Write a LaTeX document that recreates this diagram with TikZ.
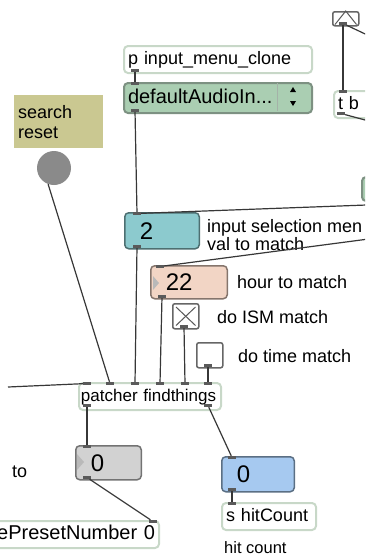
\documentclass[tikz,border=0pt]{standalone}
\usepackage{fontspec}
\setmainfont{Liberation Sans}

\definecolor{objedge}{RGB}{200,216,200}
\definecolor{cordgray}{RGB}{55,55,55}
\definecolor{inletgray}{RGB}{90,90,90}
\definecolor{menufill}{RGB}{170,206,178}
\definecolor{menuedge}{RGB}{125,145,130}
\definecolor{commentfill}{RGB}{202,200,145}
\definecolor{bangfill}{RGB}{138,138,138}
\definecolor{tealfill}{RGB}{140,202,206}
\definecolor{peachfill}{RGB}{242,213,197}
\definecolor{grayfill}{RGB}{210,210,210}
\definecolor{bluefill}{RGB}{166,201,240}

\newcommand\objfont{\fontsize{18}{20}\selectfont}
\newcommand\numfont{\fontsize{24}{26}\selectfont}

\tikzset{
  obj/.style={draw=objedge,line width=2pt,fill=white,rounded corners=4pt,anchor=north west,
    inner xsep=4pt,inner ysep=0pt,minimum height=27pt,align=left,font=\objfont,
    text height=13.5pt,text depth=3.5pt},
  menubox/.style={obj,draw=menuedge,fill=menufill,minimum height=30pt},
  numbox/.style={draw=#1!55!black,fill=#1,line width=1.5pt,rounded corners=4pt,anchor=north west,
    inner xsep=15pt,inner ysep=0pt,align=left,font=\numfont,text height=17pt,text depth=0pt},
  toggle/.style={draw=gray!80!black,line width=1.5pt,fill=white,rounded corners=2pt,anchor=north west,
    minimum width=26pt,minimum height=25pt,inner sep=0pt},
  port/.style={fill=inletgray,minimum width=8pt,minimum height=3pt,inner sep=0pt},
  cord/.style={draw=cordgray,line width=1.2pt},
  note/.style={anchor=base west,inner sep=0pt,font=\objfont},
}

\begin{document}
\begin{tikzpicture}[x=1pt,y=-1pt]
		\useasboundingbox (0,0) rectangle (365,558);
		\clip (0,0) rectangle (365,558);
		% boxes
		\node[toggle,minimum height=14pt] (toptoggle) at (332,11) {};
		\draw[gray!70!black,line width=1pt] ([shift={(3,-2)}]toptoggle.south west) -- (toptoggle.north) -- ([shift={(-3,-2)}]toptoggle.south east);
		\node[obj,text width=60pt] (tb) at (333,90) {t b};
		\node[menubox,minimum height=24pt,minimum width=60pt] (rightmenu) at (361,176) {};
		\node[obj,text width=180pt] (inputclone) at (123,45) {p input\_menu\_clone};
		\node[menubox,text width=180pt,font=\fontsize{20}{22}\selectfont] (audiomenu) at (123,82) {defaultAudioIn...};
		\draw[menuedge!70] (277,83) -- (277,111);
		\fill (293,87) -- (296,92) -- (290,92) -- cycle;
		\fill (293,106) -- (296,101) -- (290,101) -- cycle;
		\node[fill=commentfill,anchor=north west,minimum width=89pt,minimum height=53pt,text width=81pt,
			inner xsep=4pt,inner ysep=0pt,align=left,font=\objfont] (searchnote) at (14,95) {search\\reset};
		\node[circle,fill=bangfill,minimum size=34pt,inner sep=0pt] (resetbang) at (54,168) {};
		\node[numbox=tealfill,text width=44.5pt,minimum height=36pt] (selnum) at (124,212) {2};
		\node[numbox=peachfill,text width=46.5pt,minimum height=33pt] (hournum) at (150,265) {22};
		\fill[gray!55] (153,276) -- (159,283) -- (153,290) -- cycle;
		\node[toggle] (ismtoggle) at (172,303) {};
		\draw[gray!70!black,line width=1pt] ([shift={(4,4)}]ismtoggle.north west) -- ([shift={(-4,-4)}]ismtoggle.south east)
			([shift={(-4,4)}]ismtoggle.north east) -- ([shift={(4,-4)}]ismtoggle.south west);
		\node[toggle] (timetoggle) at (196,342) {};
		\node[obj,text width=138pt,inner xsep=2pt,font=\fontsize{17}{19}\selectfont] (findthings) at (78,382) {patcher findthings};
		\node[numbox=grayfill,text width=35.5pt,minimum height=34pt] (presetnum) at (75,445) {0};
		\fill[gray!55] (77,454) -- (84,462) -- (77,470) -- cycle;
		\node[obj,anchor=north east,text width=200pt,align=right,font=\fontsize{20}{22}\selectfont] (storepreset) at (160,520) {ePresetNumber 0};
		\node[numbox=bluefill,text width=42.5pt,minimum height=35pt] (hitnum) at (221,456) {0};
		\node[obj,text width=86pt] (hitsend) at (221,502) {s hitCount};
		% comments
		\node[note] (selnote) at (207,232) {input selection men};
		\node[note] (valnote) at (207,250) {val to match};
		\node[note] (hournote) at (237,288) {hour to match};
		\node[note] (ismnote) at (217,323) {do ISM match};
		\node[note] (timenote) at (238,362) {do time match};
		\node[note] (tonote) at (12,477) {to};
		\node[note,font=\fontsize{16.5}{18}\selectfont] (hitnote) at (224,553) {hit count};
		% inlets and outlets
		\node[port] (top-out) at (343,23.5) {};
		\node[port] (tb-in) at (343,91.5) {};
		\node[port] (tb-out) at (341,113.5) {};
		\node[port] (clone-out) at (135,70.5) {};
		\node[port] (menu-in) at (135,83.5) {};
		\node[port] (menu-out) at (135,110.5) {};
		\node[port] (sel-in) at (137,213.5) {};
		\node[port] (sel-out) at (137,246.5) {};
		\node[port] (hour-in) at (160,266.5) {};
		\node[port] (hour-out) at (162,296.5) {};
		\node[port] (ism-out) at (184,326.5) {};
		\node[port] (time-out) at (208,365.5) {};
		\foreach \i/\x in {0/87,1/110,2/135,3/160,4/185,5/208} {
			\node[port] (find-in\i) at (\x,383.5) {};
		}
		\node[port] (find-out0) at (87,405.5) {};
		\node[port] (find-out1) at (208,405.5) {};
		\node[port] (preset-in) at (87,446.5) {};
		\node[port] (preset-out) at (87,477.5) {};
		\node[port] (store-in) at (153,521.5) {};
		\node[port] (hit-in) at (232,457.5) {};
		\node[port] (hit-out) at (232,489.5) {};
		\node[port] (send-in) at (232,503.5) {};
		% loose ends off the edge
		\coordinate (leftend) at (8,387);
		\coordinate (rightend1) at (380,204.5);
		\coordinate (rightend2) at (380,237.5);
		\coordinate (rightend3) at (380,41);
		\coordinate (rightend4) at (380,124);
		% patch cords
		\draw[cord] (top-out) -- (tb-in);
		\draw[cord] (top-out) -- (rightend3);
		\draw[cord] (tb-out) -- (rightend4);
		\draw[cord] (clone-out) -- (menu-in);
		\draw[cord] (menu-out) -- (sel-in);
		\draw[cord] (rightend1) -- (sel-in);
		\draw[cord] (rightend2) -- (hour-in);
		\draw[cord] (leftend) -- (find-in0);
		\draw[cord] (resetbang.250) -- (find-in1);
		\draw[cord] (sel-out) -- (find-in2);
		\draw[cord] (hour-out) -- (find-in3);
		\draw[cord] (ism-out) -- (find-in4);
		\draw[cord] (time-out) -- (find-in5);
		\draw[cord] (find-out0) -- (preset-in);
		\draw[cord] (find-out1) -- (hit-in);
		\draw[cord] (preset-out) -- (store-in);
		\draw[cord] (hit-out) -- (send-in);
	\end{tikzpicture}
\end{document}
